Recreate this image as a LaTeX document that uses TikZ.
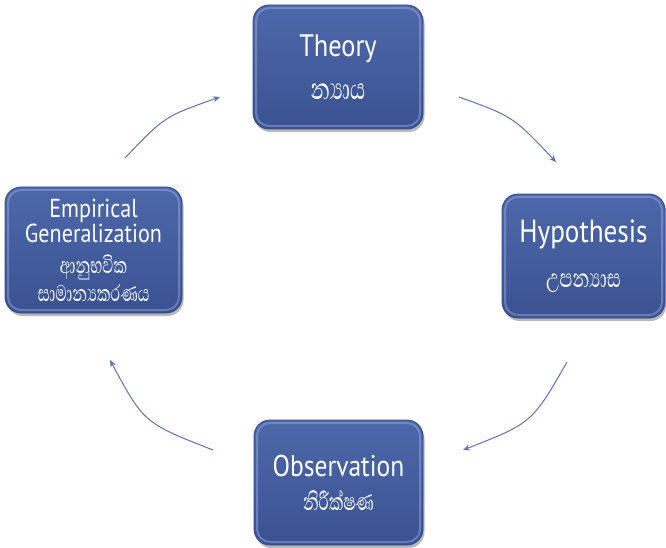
\documentclass[tikz,border=0pt]{standalone}
\usepackage{fontspec}
\setmainfont{PT Sans}[FakeStretch=0.85]
\newfontfamily\sinhfont[Script=Sinhala,FakeStretch=0.66]{Abhaya Libre}
\usetikzlibrary{shadows,arrows.meta,calc}
\definecolor{boxtop}{HTML}{4D68AA}
\definecolor{boxbot}{HTML}{3A5292}
\definecolor{boxedge}{HTML}{33498A}
\definecolor{boxhl}{HTML}{9DB0E0}
\definecolor{arrowc}{HTML}{5A74B4}
\tikzset{
  cyclebox/.style={rounded corners=16pt, draw=boxedge, line width=0.8pt,
    top color=boxtop, bottom color=boxbot, text=white, align=center,
    inner sep=0pt,
    drop shadow={shadow xshift=1.5pt, shadow yshift=-3pt, opacity=.28, fill=black},
    path picture={\draw[rounded corners=13pt, draw=boxhl, line width=2pt, opacity=.45]
      ($(path picture bounding box.north west)+(3,3)$) rectangle
      ($(path picture bounding box.south east)+(-3,-3)$);}},
  cyclearrow/.style={draw=arrowc, line width=1pt, -{Stealth[length=7pt,width=6pt]}},
}
\newcommand{\sz}[1]{\fontsize{#1}{#1}\selectfont}
\begin{document}
\begin{tikzpicture}[x=1pt,y=-1pt]
\useasboundingbox[fill=white] (0,0) rectangle (666,548);

\node[cyclebox, minimum width=170pt, minimum height=124pt,
  font=\fontsize{31}{43}\selectfont] (theory) at (338,67)
  {Theory\\{\sinhfont\sz{38}න්‍යාය}};
\node[cyclebox, minimum width=177pt, minimum height=126pt,
  font=\fontsize{26}{25}\selectfont] (empirical) at (93.5,250)
  {Empirical\\Generalization\\[6pt]{\sinhfont\sz{29}ආනුභවික}\\[3pt]{\sinhfont\sz{29}සාමාන්‍යකරණය}};
\node[cyclebox, minimum width=163pt, minimum height=124pt,
  font=\fontsize{32}{45}\selectfont] (hypothesis) at (583.5,256)
  {Hypothesis\\{\sinhfont\sz{33}උපන්‍යාස}};
\node[cyclebox, minimum width=169pt, minimum height=125pt,
  font=\fontsize{30}{34}\selectfont] (observation) at (338.5,482.5)
  {Observation\\{\sinhfont\sz{31}නිරීක්ෂණ}};

\coordinate (a1s) at (125,158);
\coordinate (a1e) at (220,97);
\coordinate (a2s) at (459,97);
\coordinate (a2e) at (556,162);
\coordinate (a3s) at (567,362);
\coordinate (a3e) at (463,450);
\coordinate (a4s) at (213,450);
\coordinate (a4e) at (110,360);

\draw[cyclearrow] (a1s) .. controls (164.5,116.5) .. (a1e);
\draw[cyclearrow] (a2s) .. controls (513,116.5) .. (a2e);
\draw[cyclearrow] (a3s) .. controls (532,423) .. (a3e);
\draw[cyclearrow] (a4s) .. controls (144,423) .. (a4e);
\end{tikzpicture}
\end{document}
